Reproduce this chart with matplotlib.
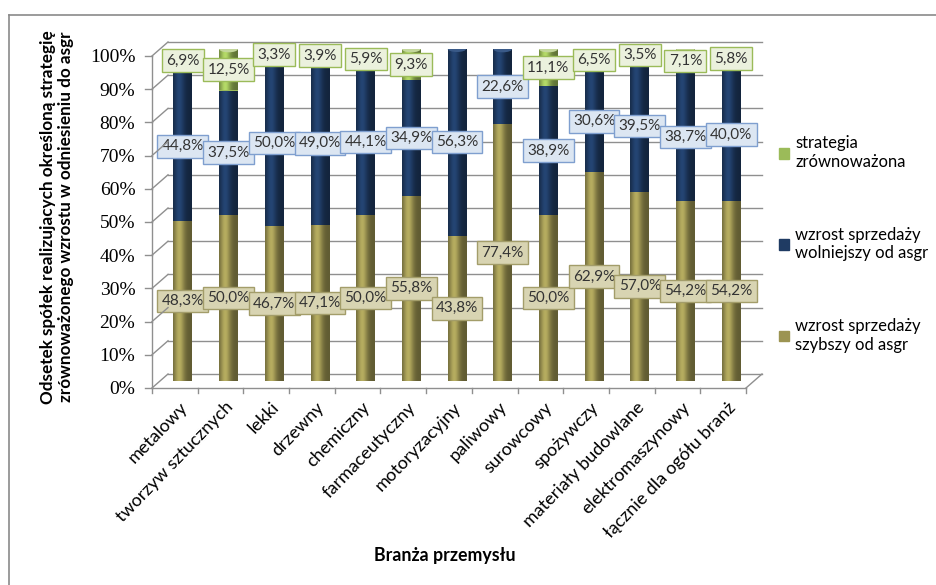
import matplotlib
matplotlib.use('Agg')
import matplotlib.pyplot as plt
import numpy as np
from matplotlib import transforms
from matplotlib.patches import Ellipse, Patch
from matplotlib.lines import Line2D
from matplotlib.colors import to_rgb

categories = ['metalowy', 'tworzyw sztucznych', 'lekki', 'drzewny', 'chemiczny',
              'farmaceutyczny', 'motoryzacyjny', 'paliwowy', 'surowcowy', 'spożywczy',
              'materiały budowlane', 'elektromaszynowy', 'łącznie dla ogółu branż']
szybszy = [48.3, 50.0, 46.7, 47.1, 50.0, 55.8, 43.8, 77.4, 50.0, 62.9, 57.0, 54.2, 54.2]
wolniejszy = [44.8, 37.5, 50.0, 49.0, 44.1, 34.9, 56.3, 22.6, 38.9, 30.6, 39.5, 38.7, 40.0]
zrownowazona = [6.9, 12.5, 3.3, 3.9, 5.9, 9.3, 0.0, 0.0, 11.1, 6.5, 3.5, 7.1, 5.8]
yticks = [0, 10, 20, 30, 40, 50, 60, 70, 80, 90, 100]
ytick_labels = [f'{t}%' for t in yticks]
series_names = ['strategia\nzrównoważona', 'wzrost sprzedaży\nwolniejszy od asgr',
                'wzrost sprzedaży\nszybszy od asgr']

SANS = ['Lato', 'DejaVu Sans']
plt.rcParams['font.family'] = SANS

C_OLIVE = '#9c9452'
C_NAVY = '#1f3b63'
C_GREEN = '#9bbb59'
GRID = '#8f8f8f'

W, H = 936, 585
fig = plt.figure(figsize=(W / 100, H / 100), dpi=100)
fig.patch.set_facecolor('white')

# chart frame (left and top edges)
fig.add_artist(Line2D([9 / W, 9 / W], [0, 1 - 15 / H], color='#8a8a8a', lw=1.2))
fig.add_artist(Line2D([9 / W, 1], [1 - 15 / H, 1 - 15 / H], color='#8a8a8a', lw=1.2))

ax = fig.add_axes([160 / W, (H - 381) / H, 594 / W, 332 / H])
ax.set_xlim(-0.5, len(categories) - 0.5)
ax.set_ylim(0, 100)
for s in ax.spines.values():
    s.set_visible(False)
ax.patch.set_alpha(0)


def off(dx, dy):
    return transforms.ScaledTranslation(dx / 100, dy / 100, fig.dpi_scale_trans)


front = ax.transData + off(-8, -7)
back = ax.transData + off(8, 7)
ident = transforms.IdentityTransform()
xl, xr = ax.get_xlim()

# back wall grid
for t in yticks:
    ax.plot([xl, xr], [t, t], transform=back, color=GRID, lw=1.0, clip_on=False, zorder=0)
# left wall: diagonals, vertical edge and tick marks
for t in yticks:
    p1 = front.transform((xl, t))
    p2 = back.transform((xl, t))
    fig.add_artist(Line2D([p1[0], p2[0]], [p1[1], p2[1]], transform=ident, color=GRID, lw=1.0))
    fig.add_artist(Line2D([p1[0] - 7, p1[0]], [p1[1], p1[1]], transform=ident, color=GRID, lw=1.0))
ax.plot([xl, xl], [0, 100], transform=front, color=GRID, lw=1.0, clip_on=False, zorder=0)
# floor front edge, right diagonal, category ticks
ax.plot([xl, xr], [0, 0], transform=front, color=GRID, lw=1.0, clip_on=False, zorder=0)
p1 = front.transform((xr, 0))
p2 = back.transform((xr, 0))
fig.add_artist(Line2D([p1[0], p2[0]], [p1[1], p2[1]], transform=ident, color=GRID, lw=1.0))
for b in np.arange(xl, xr + 0.01, 1.0):
    p = front.transform((b, 0))
    fig.add_artist(Line2D([p[0], p[0]], [p[1], p[1] - 5], transform=ident, color=GRID, lw=1.0))

# axis ticks & labels
ax.set_yticks(yticks)
ax.set_yticklabels(ytick_labels, fontfamily=['Liberation Serif', 'DejaVu Serif'], fontsize=14)
ax.tick_params(axis='y', length=0, pad=12)
for lbl in ax.get_yticklabels():
    lbl.set_transform(lbl.get_transform() + off(-8, -7))

x = np.arange(len(categories))
ax.set_xticks(x)
ax.set_xticklabels(categories, rotation=46, ha='right', rotation_mode='anchor', fontsize=13)
ax.tick_params(axis='x', length=0, pad=8)
for lbl in ax.get_xticklabels():
    lbl.set_transform(lbl.get_transform() + off(-4, -7))

# bars
bw = 0.41
sz = np.array(szybszy)
wo = np.array(wolniejszy)
zr = np.array(zrownowazona)
b1 = ax.bar(x, sz, width=bw, color=C_OLIVE, zorder=2, lw=0)
b2 = ax.bar(x, wo, width=bw, bottom=sz, color=C_NAVY, zorder=2, lw=0)
b3 = ax.bar(x, zr, width=bw, bottom=sz + wo, color=C_GREEN, zorder=2, lw=0)

u = np.linspace(0, 1, 64)
shade = 0.62 + 0.55 * np.exp(-((u - 0.33) / 0.28) ** 2)


def grad_img(color):
    rgb = np.array(to_rgb(color))
    img = np.clip(rgb[None, :] * shade[:, None], 0, 1)
    return img[None, :, :]


for cont, col in ((b1, C_OLIVE), (b2, C_NAVY), (b3, C_GREEN)):
    img = grad_img(col)
    for p in cont.patches:
        if p.get_height() <= 0:
            continue
        x0, y0 = p.get_x(), p.get_y()
        im = ax.imshow(img, extent=[x0, x0 + p.get_width(), y0, y0 + p.get_height()],
                       aspect='auto', zorder=2.1, interpolation='bilinear')
        im.set_clip_path(p)

# top caps
tops = sz + wo + zr
for i in range(len(categories)):
    capcol = '#c3d69b' if zr[i] > 0 else '#3a5a88'
    ax.add_patch(Ellipse((x[i], tops[i]), bw, 2.0, facecolor=capcol, edgecolor='none', zorder=2.2))

ax.set_xlim(xl, xr)
ax.set_ylim(0, 100)


def fmt(v):
    return f'{v:.1f}'.replace('.', ',') + '%'


def label(xi, yc, v, fc, ec):
    ax.text(xi, yc, fmt(v), ha='center', va='center', fontsize=11, color='#333333', zorder=5,
            bbox=dict(boxstyle='square,pad=0.28', fc=fc, ec=ec, lw=1.0))


for i in range(len(categories)):
    label(x[i], sz[i] / 2, sz[i], '#d8d4b2', '#a39d6a')
    label(x[i], sz[i] + wo[i] / 2, wo[i], '#dce6f2', '#7f9fcf')
    if zr[i] > 0:
        label(x[i], sz[i] + wo[i] + zr[i] / 2, zr[i], '#ebf1dd', '#9bbb59')

# legend
handles = [Patch(color=C_GREEN), Patch(color=C_NAVY), Patch(color=C_OLIVE)]
fig.legend(handles, series_names, loc='center left', bbox_to_anchor=(772 / W, 1 - 244 / H),
           frameon=False, fontsize=12, handlelength=0.6, handleheight=0.6, handletextpad=0.4,
           labelspacing=3.4, borderaxespad=0)

fig.text(57 / W, 1 - 217 / H,
         'Odsetek spółek realizujacych określoną strategię\nzrównoważonego wzrostu w odniesieniu do asgr',
         rotation=90, ha='center', va='center', fontsize=12.3, fontweight='bold', linespacing=1.2)
fig.text(445 / W, 1 - 556 / H, 'Branża przemysłu', ha='center', va='center', fontsize=12.8,
         fontweight='bold')

fig.savefig('out.png', dpi=100)
